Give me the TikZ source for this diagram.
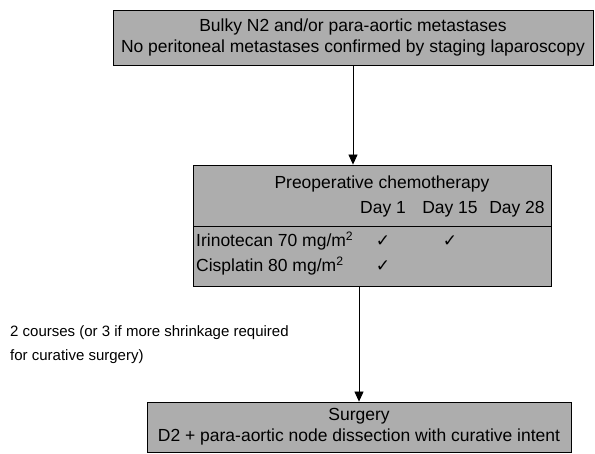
\documentclass[tikz,border=0pt]{standalone}
\usepackage{fontspec}
\setmainfont{Liberation Sans}
\newfontfamily\symfont{DejaVu Sans}
\usetikzlibrary{positioning,arrows.meta,calc}
\tikzset{
  greybox/.style={rectangle, draw, thick, fill=black!32, inner sep=0pt,
    align=center, font=\fontsize{17.5}{21}\selectfont},
  boxtext/.style={inner sep=0pt, font=\fontsize{17.5}{21}\selectfont},
  line/.style={draw, thick, -{Triangle[length=10pt,width=9pt]}},
}
\newcommand{\tick}{{\symfont\fontsize{17}{17}\selectfont ✓}}

\begin{document}
\begin{tikzpicture}[x=1pt,y=-1pt]
  \useasboundingbox (0,0) rectangle (595,454);

  % Boxes
  \node[greybox, minimum width=480pt, minimum height=55pt] (staging) at (353,37.5)
    {Bulky N2 and/or para-aortic metastases\\
     No peritoneal metastases confirmed by staging laparoscopy};

  \node[greybox, minimum width=358pt, minimum height=61pt] (chemo) at (372,195.5) {};
  \node[greybox, minimum width=358pt, minimum height=60pt] (regimen) at (372,256) {};

  \node[greybox, minimum width=424pt, minimum height=50pt] (surgery) at (359,427)
    {Surgery\\ D2 + para-aortic node dissection with curative intent};

  % Chemotherapy table
  \node[boxtext] (title) at (382,184) {Preoperative chemotherapy};
  \node[boxtext] (day1) at (383,209) {Day 1};
  \node[boxtext] (day15) at (450,209) {Day 15};
  \node[boxtext] (day28) at (517,209) {Day 28};

  \node[boxtext, anchor=west] (irino) at (196,241) {Irinotecan 70 mg/m\textsuperscript{2}};
  \node[boxtext, anchor=west] (cispl) at (196,266) {Cisplatin 80 mg/m\textsuperscript{2}};
  \node[boxtext] (irinoA) at (day1 |- irino) {\tick};
  \node[boxtext] (irinoB) at (day15 |- irino) {\tick};
  \node[boxtext] (csplA) at (day1 |- cispl) {\tick};

  % Note
  \node[boxtext, anchor=west, align=left, font=\fontsize{15}{24}\selectfont] (courses) at (10,345)
    {2 courses (or 3 if more shrinkage required\\ for curative surgery)};

  % Edges
  \path[line] (staging.south) -- (staging.south |- chemo.north);
  \path[line] (surgery.north |- regimen.south) -- (surgery.north);
\end{tikzpicture}
\end{document}
